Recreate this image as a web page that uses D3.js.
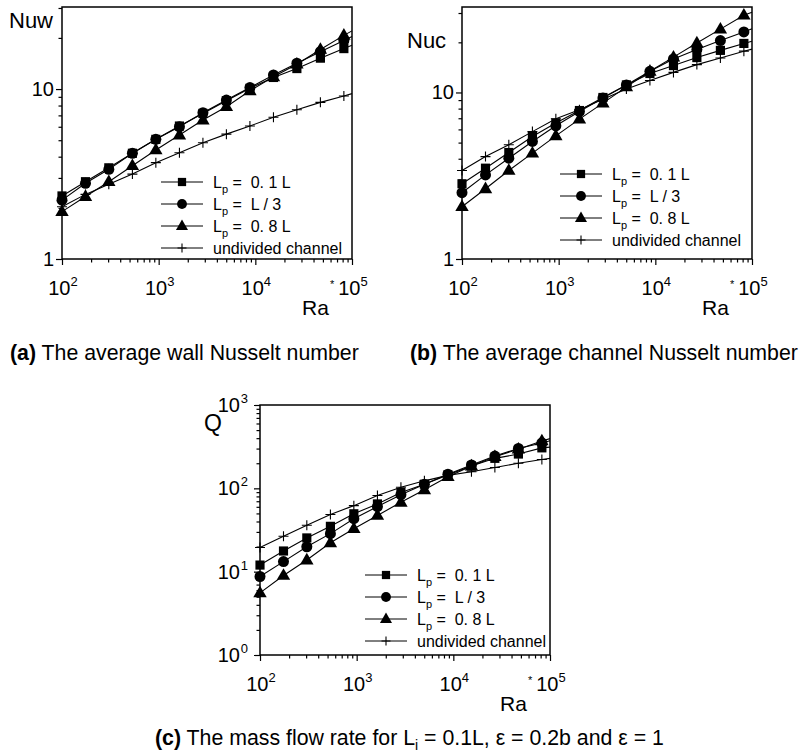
<!DOCTYPE html>
<html>
<head>
    <meta charset="utf-8">
    <title>Nusselt number and mass flow rate</title>
    <script src="https://cdn.jsdelivr.net/npm/d3@7"></script>
    <style>
        body { margin: 0; background: #fff; }
        svg { font-family: "Liberation Sans", Arial, sans-serif; }
        text { white-space: pre; }
        .frame { fill: none; stroke: #000; stroke-width: 1.5; }
        .tick line { stroke: #000; stroke-width: 1.2; }
        .curve { fill: none; stroke: #000; stroke-width: 1.1; }
    </style>
</head>
<body>
<script>
    // Ra* positions of the markers; the last one is where the curves meet the frame (no marker)
    var raValues = [100, 175, 305, 535, 935, 1640, 2870, 5020, 8790, 15400, 26900, 47100, 82400, 100000];
    var markerCount = 13;

    var nuwSquare   = [2.35, 2.85, 3.44, 4.19, 5.06, 6.06, 7.19, 8.54, 10.1, 11.7, 13.2, 15.2, 17.3, 18.1];
    var nuwCircle   = [2.22, 2.79, 3.37, 4.19, 5.06, 6.0, 7.26, 8.62, 10.2, 12.1, 14.2, 16.6, 19.3, 20.4];
    var nuwTriangle = [1.90, 2.33, 2.85, 3.54, 4.38, 5.36, 6.57, 7.87, 9.77, 11.8, 14.0, 17.1, 20.7, 22.0];
    var nuwPlus     = [2.03, 2.40, 2.75, 3.16, 3.69, 4.22, 4.83, 5.43, 6.06, 6.82, 7.55, 8.35, 9.1, 9.4];

    var nucSquare   = [2.83, 3.51, 4.36, 5.44, 6.55, 7.79, 9.33, 11.1, 13.0, 14.5, 16.2, 17.9, 19.7, 20.3];
    var nucCircle   = [2.50, 3.20, 4.03, 5.08, 6.31, 7.69, 9.25, 11.1, 13.4, 15.9, 18.1, 20.5, 23.1, 24.1];
    var nucTriangle = [2.06, 2.64, 3.40, 4.32, 5.49, 6.92, 8.63, 10.8, 13.4, 16.3, 19.8, 24.0, 29.1, 30.3];
    var nucPlus     = [3.40, 4.12, 4.85, 5.82, 6.95, 7.87, 9.12, 10.5, 11.8, 13.2, 14.7, 16.1, 17.7, 18.2];

    var qSquare   = [12.0, 17.7, 25.4, 35.0, 49.5, 65, 89, 112, 145, 185, 229, 258, 306, 312];
    var qCircle   = [8.75, 13.2, 19.9, 28.6, 43.2, 60.4, 84, 112, 148, 191, 244, 301, 350, 372];
    var qTriangle = [5.56, 9.0, 13.8, 22.2, 32.8, 47.3, 68, 96, 138, 185, 240, 295, 370, 395];
    var qPlus     = [19.5, 26.6, 36, 48.6, 62, 82, 103, 123, 143, 158, 178, 200, 222, 229];

    var legendLabels = ["=  0. 1 L", "=  L / 3", "=  0. 8 L", "undivided channel"];
    var markerKinds = ["square", "circle", "triangle", "plus"];
    var xMajor = [100, 1000, 10000, 100000];

    var svg = d3.select("body").append("svg")
        .attr("width", 810)
        .attr("height", 752);

    function minorTicks(lo, hi) {
        var out = [];
        for (var d = lo; d < hi; d *= 10) {
            for (var k = 2; k <= 9; k++) {
                if (d * k <= hi * 1.0001) out.push(d * k);
            }
        }
        return out;
    }

    function drawMarker(g, kind, cx, cy, s) {
        if (kind === "plus") {
            g.append("path")
                .attr("d", "M" + (cx - 5 * s) + "," + cy + "h" + 10 * s + "M" + cx + "," + (cy - 5 * s) + "v" + 10 * s)
                .attr("stroke", "#000").attr("stroke-width", 1.1).attr("fill", "none");
            return;
        }
        var type = kind === "square" ? d3.symbolSquare : kind === "circle" ? d3.symbolCircle : d3.symbolTriangle;
        var size = kind === "square" ? 84 : kind === "circle" ? 95 : 78;
        g.append("path")
            .attr("d", d3.symbol().type(type).size(size * s * s)())
            .attr("transform", "translate(" + cx + "," + (kind === "triangle" ? cy + 0.5 : cy) + ")")
            .attr("fill", "#000");
    }

    function powLabel(sel, exp, big, small, rise) {
        sel.append("tspan").attr("font-size", big).text("10");
        sel.append("tspan").attr("font-size", small).attr("dy", -rise).text(exp);
    }

    function drawPanel(p) {
        var g = svg.append("g");
        var x = d3.scaleLog().domain([100, 100000]).range([p.left, p.right]);
        var y = d3.scaleLog().domain(p.yDomain).range([p.bottom, p.top]);

        // x ticks, pointing out of the frame
        g.append("g")
            .attr("transform", "translate(0," + p.bottom + ")")
            .call(d3.axisBottom(x).tickValues(xMajor).tickSize(6).tickFormat(""))
            .call(function (a) { a.select(".domain").remove(); });
        g.append("g")
            .attr("transform", "translate(0," + p.bottom + ")")
            .call(d3.axisBottom(x).tickValues(minorTicks(100, 100000)).tickSize(3.5).tickFormat(""))
            .call(function (a) { a.select(".domain").remove(); });

        // y ticks
        g.append("g")
            .attr("transform", "translate(" + p.left + ",0)")
            .call(d3.axisLeft(y).tickValues(p.yMajor).tickSize(6).tickFormat(""))
            .call(function (a) { a.select(".domain").remove(); });
        g.append("g")
            .attr("transform", "translate(" + p.left + ",0)")
            .call(d3.axisLeft(y).tickValues(minorTicks(p.yDomain[0], p.yDomain[1])).tickSize(3.5).tickFormat(""))
            .call(function (a) { a.select(".domain").remove(); });

        g.append("rect").attr("class", "frame")
            .attr("x", p.left).attr("y", p.top)
            .attr("width", p.right - p.left).attr("height", p.bottom - p.top);

        // x tick labels
        xMajor.forEach(function (v, i) {
            var t = g.append("text")
                .attr("x", x(v) + 1).attr("y", p.bottom + 36)
                .attr("text-anchor", "middle");
            powLabel(t, String(i + 2), 20, 13, 9);
        });

        // y tick labels
        p.yMajor.forEach(function (v, i) {
            var t = g.append("text")
                .attr("x", p.left - 8).attr("y", y(v) + 7)
                .attr("text-anchor", "end");
            if (p.powerLabels) {
                t.attr("x", p.left - 20);
                powLabel(t, "", 20, 13, 0);
                t.append("tspan").attr("font-size", 13).attr("x", p.left - 12).attr("dy", -9).text(String(i));
            } else {
                t.attr("font-size", 20).text(v);
            }
        });

        // axis titles
        g.append("text").attr("x", p.ylabX).attr("y", p.ylabY)
            .attr("font-size", p.ylabSize).text(p.yTitle);
        g.append("text").attr("x", p.right - 50).attr("y", p.bottom + 56)
            .attr("font-size", 21).text("Ra");
        g.append("text").attr("x", p.right - 22).attr("y", p.bottom + 29)
            .attr("font-size", 11).text("*");

        // curves and markers
        var line = d3.line()
            .x(function (d, i) { return x(raValues[i]); })
            .y(function (d) { return y(d); });
        p.series.forEach(function (values) {
            g.append("path").attr("class", "curve").attr("d", line(values));
        });
        p.series.forEach(function (values, k) {
            values.slice(0, markerCount).forEach(function (v, i) {
                drawMarker(g, markerKinds[k], x(raValues[i]), y(v), 1);
            });
        });

        // legend
        legendLabels.forEach(function (label, k) {
            var cy = p.legY + k * 22;
            g.append("line")
                .attr("x1", p.legX).attr("x2", p.legX + 42)
                .attr("y1", cy).attr("y2", cy)
                .attr("stroke", "#000").attr("stroke-width", 1);
            drawMarker(g, markerKinds[k], p.legX + 21, cy, 0.9);
            var t = g.append("text").attr("x", p.legX + 52).attr("y", cy + 6).attr("font-size", 16);
            if (k < 3) {
                t.append("tspan").text("L");
                t.append("tspan").attr("font-size", 11).attr("dy", 5).text("p");
                t.append("tspan").attr("dy", -5).text(" " + label);
            } else {
                t.text(label);
            }
        });
    }

    var panels = [
        {left: 62, right: 352, top: 7, bottom: 259, yDomain: [1, 30.4], yMajor: [1, 10],
         yTitle: "Nuw", ylabX: 9, ylabY: 28, ylabSize: 22,
         legX: 161, legY: 182,
         series: [nuwSquare, nuwCircle, nuwTriangle, nuwPlus]},
        {left: 462, right: 752, top: 7, bottom: 259, yDomain: [1, 32.6], yMajor: [1, 10],
         yTitle: "Nuc", ylabX: 407, ylabY: 48, ylabSize: 22,
         legX: 560, legY: 174,
         series: [nucSquare, nucCircle, nucTriangle, nucPlus]},
        {left: 260, right: 550, top: 405, bottom: 655, yDomain: [1, 1000], yMajor: [1, 10, 100, 1000],
         powerLabels: true,
         yTitle: "Q", ylabX: 204, ylabY: 431, ylabSize: 23,
         legX: 365, legY: 575,
         series: [qSquare, qCircle, qTriangle, qPlus]}
    ];
    panels.forEach(drawPanel);

    // captions
    function caption(x, y, tag, rest) {
        var t = svg.append("text").attr("x", x).attr("y", y).attr("font-size", 21.3);
        t.append("tspan").attr("font-weight", "bold").text(tag);
        rest.forEach(function (r) {
            var s = t.append("tspan").text(r.text);
            if (r.sub) s.attr("font-size", 14).attr("dy", 5);
            if (r.up) s.attr("dy", -5);
        });
    }
    caption(10, 360, "(a)", [{text: " The average wall Nusselt number"}]);
    caption(410, 360, "(b)", [{text: " The average channel Nusselt number"}]);
    caption(155, 745, "(c)", [
        {text: " The mass flow rate for L"},
        {text: "i", sub: true},
        {text: " = 0.1L, \u03b5 = 0.2b and \u03b5 = 1", up: true}
    ]);
</script>
</body>
</html>
